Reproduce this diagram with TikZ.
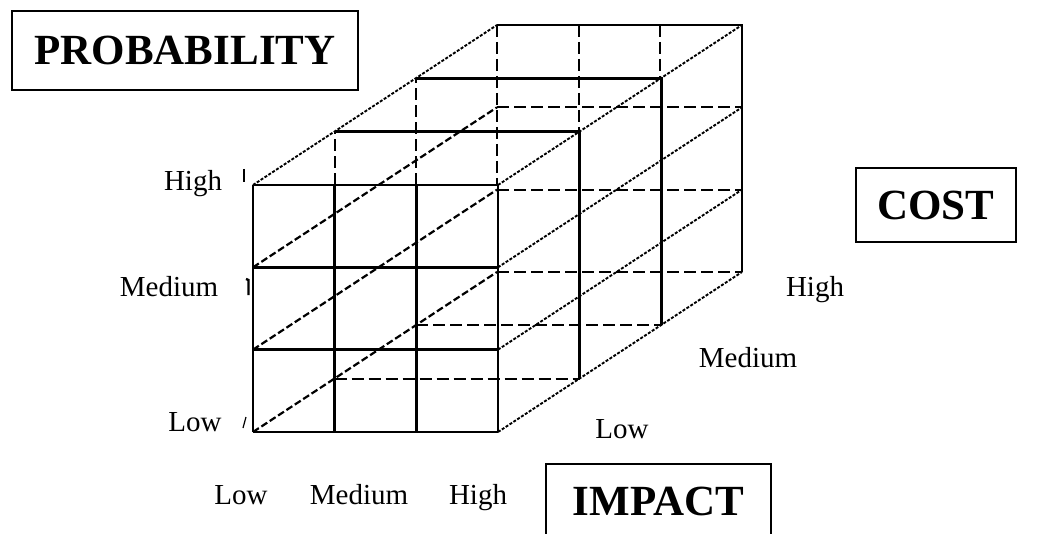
\documentclass[tikz,border=0pt]{standalone}
\usepackage{fontspec}
\setmainfont{Liberation Serif}
\usepackage{tikz}
\usetikzlibrary{positioning}

\begin{document}
\begin{tikzpicture}[x=0.5pt, y=-0.5pt,
        grid line/.style={line width=1.3pt},
        hidden line/.style={line width=1.1pt, dash pattern=on 6pt off 2.5pt},
        depth line/.style={line width=1.1pt, dash pattern=on 3.5pt off 1.5pt},
        edge line/.style={line width=0.95pt, dash pattern=on 1.5pt off 0.8pt},
        axis box/.style={draw, line width=0.8pt, inner sep=0pt, font=\fontsize{21.5}{24}\selectfont\bfseries},
        level/.style={anchor=base, inner sep=0pt, font=\fontsize{14.5}{17}\selectfont}]

    \clip (0,0) rectangle (1043,534);
    \fill[white] (0,0) rectangle (1043,534);

    % corners of the front face (F) and of the back face (B)
    \foreach \i in {0,...,3}
        \foreach \j in {0,...,3} {
            \coordinate (F\i\j) at (253+\i*81.667, 432-\j*82.333);
            \coordinate (B\i\j) at (497+\i*81.667, 272-\j*82.333);
        }

    % back layer: inner grid hidden
    \foreach \j in {0,1,2}
        \draw[hidden line] (B0\j) -- (B3\j);
    \foreach \i in {0,1,2}
        \draw[hidden line] (B\i3) -- ++(0,{160-\i*53.333});
    \draw[grid line] (B03) -- (B33) -- (B30);

    % two middle layers: outline only
    \draw[grid line] (334.667,131.667) -- (579.667,131.667) -- (579.667,378.667);
    \draw[hidden line] (334.667,185) -- (334.667,131.667);
    \draw[hidden line] (334.667,378.667) -- (579.667,378.667);
    \draw[grid line] (416.333,78.333) -- (661.333,78.333) -- (661.333,325.333);
    \draw[hidden line] (416.333,185) -- (416.333,78.333);
    \draw[hidden line] (416.333,325.333) -- (661.333,325.333);

    % depth lines
    \foreach \j in {0,1,2} {
        \draw[depth line] (F0\j) -- (B0\j);
        \draw[edge line] (F3\j) -- (B3\j);
    }
    \draw[edge line] (F03) -- (B03);
    \draw[edge line] (F33) -- (B33);

    % front layer: full grid
    \foreach \i in {0,...,3}
        \draw[grid line] (F\i0) -- (F\i3);
    \foreach \j in {0,...,3}
        \draw[grid line] (F0\j) -- (F3\j);

    % small ticks at the probability axis
    \draw[line width=0.6pt] (244,169) -- (244,182);
    \draw[line width=1.2pt] (246,279) -- (248.5,280) -- (248.5,295);
    \draw[line width=0.6pt] (243,428) -- (246,417);

    % axis titles
    \node[axis box, minimum width=173pt, minimum height=39.5pt] (prob) at (185,50.5) {PROBABILITY};
    \node[axis box, minimum width=80pt, minimum height=37pt] (cost) at (936,205) {COST};
    \node[axis box, minimum width=112.5pt, minimum height=37.5pt] (impact) at (658.5,501.5) {IMPACT};

    % levels
    \node[level] (pLow) at (195,431) {Low};
    \node[level] (pMed) at (169,296) {Medium};
    \node[level] (pHigh) at (193,191) {High};
    \node[level] (iLow) at (241,504) {Low};
    \node[level] (iMed) at (359,504) {Medium};
    \node[level] (iHigh) at (478,504) {High};
    \node[level] (cLow) at (622,438) {Low};
    \node[level] (cMed) at (748,367) {Medium};
    \node[level] (cHigh) at (815,296) {High};

\end{tikzpicture}
\end{document}
